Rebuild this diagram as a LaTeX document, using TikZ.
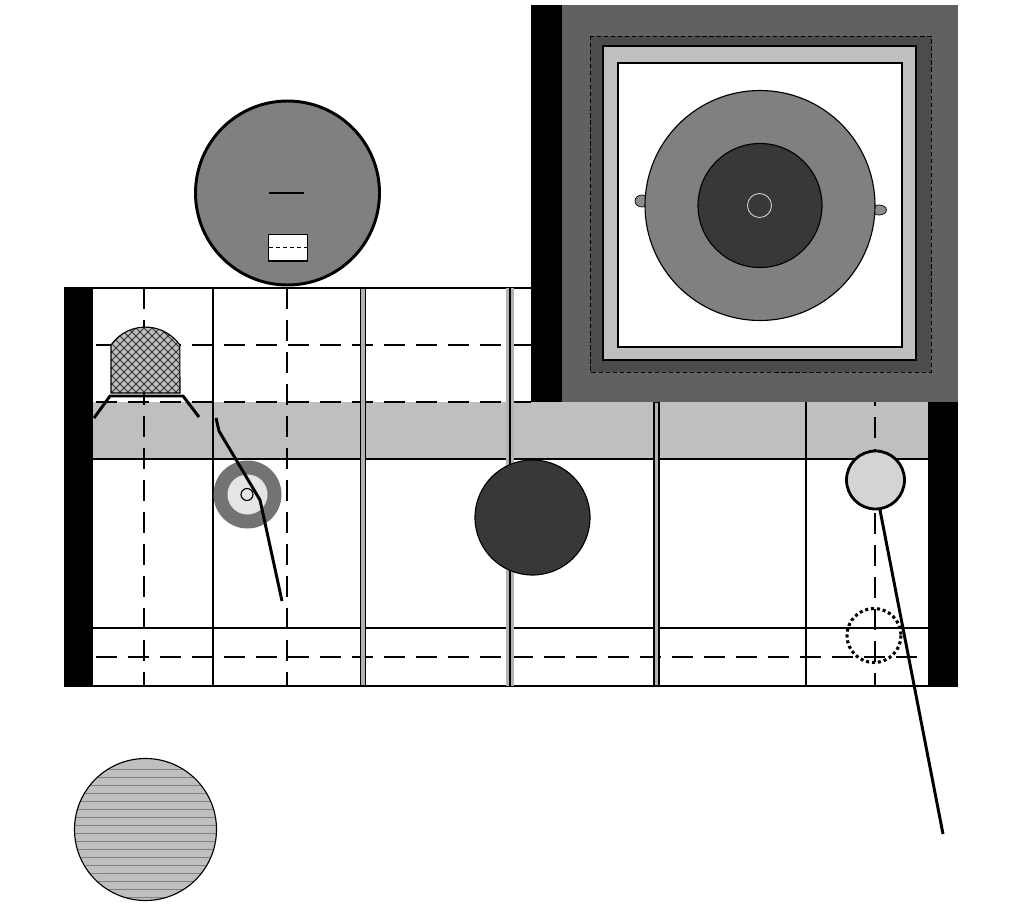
\documentclass[tikz,border=0pt]{standalone}
\tikzset{
  wall/.style={fill=black,draw=none},
  rule/.style={line width=2.1pt},
  dashrule/.style={line width=2.1pt,dash pattern=on 14.9pt off 7.85pt},
  lead/.style={line width=2.1pt},
  outline/.style={draw=black,line width=0.8pt},
  rod/.style={draw=black,line width=1.4pt,fill=black!30}
}
\begin{document}
\begin{tikzpicture}[x=0.025cm,y=-0.025cm]
    \useasboundingbox [fill=white] (0,0) rectangle (1020,906);
    % floor band
    \fill [black!25] (93,402) rectangle (928,459);
    % dashed centre lines
    \foreach \x in {144,287}
    \draw [dashrule] (\x,288) -- (\x,686);
    \draw [dashrule,dash phase=5.7pt] (875,686) -- (875,402);
    \draw [dashrule] (96,345) -- (531,345);
    \draw [dashrule] (96,402) -- (531,402);
    \draw [dashrule] (96,657) -- (918,657);
    % solid grid
    \draw [rule] (64,288) -- (531,288);
    \draw [rule] (93,459) -- (928,459);
    \draw [rule] (93,628) -- (928,628);
    \draw [rule] (64,686) -- (958,686);
    \draw [rule] (213,288) -- (213,686);
    \draw [rule] (806,402) -- (806,686);
    % double posts
    \draw [rod] (360.5,288) rectangle (365.5,686);
    \draw [rod] (654,402) rectangle (659,686);
    \fill [black!30] (506,288) rectangle (514,686);
    \draw [line width=1.8pt] (510,288) -- (510,686);
    % walls
    \fill [wall] (64,288) rectangle (93,686);
    \fill [wall] (928,402) rectangle (958,686);
    \fill [wall] (531,5) rectangle (562,402);
    % square room
    \fill [black!62] (562,5) rectangle (958,402);
    \draw [black,fill=black!70,line width=0.6pt,densely dashed] (590,36) rectangle (931,372);
    \draw [outline,fill=black!25] (603,46) rectangle (916,360);
    \draw [outline,fill=white] (618,63) rectangle (902,347);
    \draw [black,line width=0.5pt,fill=black!45] (642,201) ellipse (7 and 6);
    \draw [black,line width=0.5pt,fill=black!45] (879,210) ellipse (7.5 and 5);
    \draw [outline,fill=black!50] (760,205.5) circle (115);
    \draw [outline,fill=black!78] (760,205.5) circle (62);
    \draw [white!85!black,line width=0.6pt] (759.5,205.5) circle (12);
    % top disc
    \draw [line width=2.1pt,fill=black!50] (287.5,193) circle (92);
    \draw [line width=2.1pt] (269,193) -- (304,193);
    \draw [outline,fill=white] (268.5,234.5) rectangle (307.5,261);
    \draw [line width=0.6pt,densely dashed] (268.5,247.5) -- (307.5,247.5);
    % dome on its stand
    \fill [black!25] (111,393) -- (111,345) arc (215:325:42) -- (180,393) -- cycle;
    \begin{scope}
    \clip (111,393) -- (111,345) arc (215:325:42) -- (180,393) -- cycle;
    \foreach \d in {-80,-72,...,220} {
    \draw [black!80,line width=0.6pt] (\d,320) -- (\d+80,400);
    \draw [black!80,line width=0.6pt] (\d+80,320) -- (\d,400);
    }
    \end{scope}
    \draw [outline] (111,393) -- (111,345) arc (215:325:42) -- (180,393) -- cycle;
    \draw [lead] (94,418) -- (110,396) -- (183,396) -- (199,417);
    % round posts
    \draw [outline,fill=black!78] (532.5,517.5) circle (57.5);
    \draw [line width=2pt,fill=black!17] (875.5,480) circle (29);
    \draw [line width=2.2pt,dotted] (874,635.5) circle (27);
    \fill [black!55] (247.5,494.5) circle (34);
    \fill [black!10] (247.5,494.5) circle (20);
    \draw [line width=0.8pt] (247,494.5) circle (6);
    % leader lines
    \draw [lead] (216,418) -- (219,431) -- (260,500) -- (282,601);
    \draw [lead] (880,510) -- (943,834);
    % striped disc
    \fill [black!25] (145.5,829.5) circle (71);
    \begin{scope}
    \clip (145.5,829.5) circle (71);
    \foreach \y in {769,777,...,897}
    \draw [black!50,line width=0.7pt] (70,\y) -- (220,\y);
    \end{scope}
    \draw [outline] (145.5,829.5) circle (71);
  \end{tikzpicture}
\end{document}
